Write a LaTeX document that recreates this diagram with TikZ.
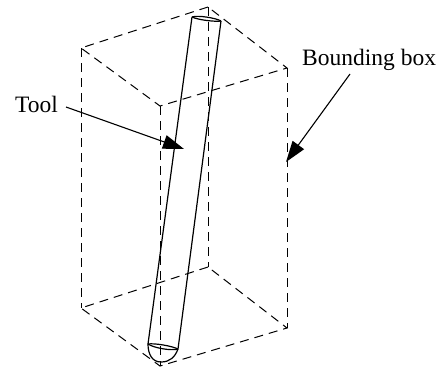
\documentclass[tikz,border=0pt]{standalone}
\usepackage{fontspec}
\setmainfont{Liberation Serif}
\usetikzlibrary{arrows.meta}
\tikzset{
    boxedge/.style={line width=1pt, dash pattern=on 9pt off 6pt},
    toolline/.style={line width=1.2pt},
    pointer/.style={line width=1.1pt, -{Triangle[length=21pt,width=14pt]}},
    callout/.style={font=\fontsize{23.5}{26}\selectfont, inner sep=0pt, anchor=base west}
}

\begin{document}
\begin{tikzpicture}[x=1pt, y=-1pt]
    \useasboundingbox (0,0) rectangle (441,367);

    % Corners of the bounding box, top face then bottom face
    \foreach \name/\px/\py in {back/208/7, left/81/48, front/160/106, right/287/68} {
        \coordinate (top-\name) at (\px, \py);
        \coordinate (bot-\name) at (\px, \py+260);
    }

    % Dashed edges of the box
    \draw[boxedge] (top-back) -- (top-left) -- (top-front) -- (top-right) -- cycle;
    \draw[boxedge] (bot-back) -- (bot-left) -- (bot-front) -- (bot-right) -- cycle;
    \foreach \name in {back, left, front, right} {
        \draw[boxedge] (top-\name) -- (bot-\name);
    }

    % Tool outline
    \coordinate (tool-top-l) at (192, 17);
    \coordinate (tool-top-r) at (221, 21);
    \coordinate (tool-bot-l) at (148, 344);
    \coordinate (tool-bot-r) at (178, 349);
    \coordinate (tool-tip) at (161, 362);

    \draw[toolline] (tool-top-l) -- (tool-bot-l);
    \draw[toolline] (tool-top-r) -- (tool-bot-r);
    \draw[toolline] (tool-top-l) .. controls (198, 15) and (216, 18) .. (tool-top-r);
    \draw[toolline] (tool-top-l) .. controls (198, 20) and (216, 22) .. (tool-top-r);
    \draw[toolline] (tool-bot-l) .. controls (155, 343) and (172, 346) .. (tool-bot-r);
    \draw[toolline] (tool-bot-l) .. controls (154, 348) and (171, 351) .. (tool-bot-r);
    \draw[toolline] (tool-bot-l) .. controls (148, 354) and (152, 362) .. (tool-tip)
        .. controls (170, 362) and (175, 357) .. (tool-bot-r);

    % Labels with their arrows
    \node(label-tool)[callout] at (15, 112) {Tool};
    \node(label-box)[callout] at (302, 65) {Bounding box};

    \coordinate (tool-from) at (66, 107);
    \coordinate (tool-to) at (184, 149);
    \coordinate (box-from) at (350, 74);
    \coordinate (box-to) at (286, 162);

    \draw[pointer] (tool-from) -- (tool-to);
    \draw[pointer] (box-from) -- (box-to);
\end{tikzpicture}
\end{document}
